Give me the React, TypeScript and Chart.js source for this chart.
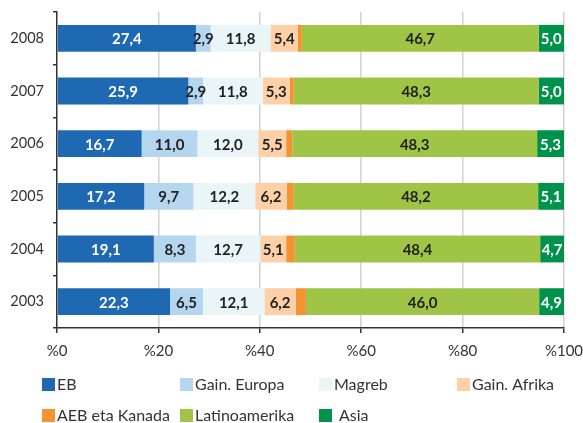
import React, { useEffect, useRef } from "react";
import { Chart, registerables } from "chart.js";

Chart.register(...registerables);

const years = ["2008", "2007", "2006", "2005", "2004", "2003"];
const seriesNames = ["EB", "Gain. Europa", "Magreb", "Gain. Afrika", "AEB eta Kanada", "Latinoamerika", "Asia"];
const eb = [27.4, 25.9, 16.7, 17.2, 19.1, 22.3];
const gainEuropa = [2.9, 2.9, 11.0, 9.7, 8.3, 6.5];
const magreb = [11.8, 11.8, 12.0, 12.2, 12.7, 12.1];
const gainAfrika = [5.4, 5.3, 5.5, 6.2, 5.1, 6.2];
const aebKanada = [0.8, 0.8, 1.2, 1.4, 1.7, 2.0];
const latinoamerika = [46.7, 48.3, 48.3, 48.2, 48.4, 46.0];
const asia = [5.0, 5.0, 5.3, 5.1, 4.7, 4.9];
const xTicks = [0, 20, 40, 60, 80, 100];

const colors = ["#1f69b3", "#b5d6ef", "#eaf5f7", "#fdd0a7", "#f39332", "#a0c546", "#00914a"];
const labelColors = ["#ffffff", "#222222", "#222222", "#222222", null, "#222222", "#ffffff"];
const FONT = "Lato";

const valueLabels = {
  id: "valueLabels",
  afterDatasetsDraw(chart: any) {
    const ctx = chart.ctx;
    ctx.save();
    ctx.font = `bold 15px ${FONT}`;
    ctx.textAlign = "center";
    ctx.textBaseline = "middle";
    chart.data.datasets.forEach((ds: any, i: number) => {
      const col = labelColors[i];
      if (!col) return;
      const meta = chart.getDatasetMeta(i);
      meta.data.forEach((el: any, j: number) => {
        const v = ds.data[j];
        const cx = (el.x + el.base) / 2;
        ctx.fillStyle = col;
        ctx.fillText(v.toFixed(1).replace(".", ","), cx, el.y + 1);
      });
    });
    ctx.restore();
  },
};

const legendPos = [
  [42, 384], [180, 384], [319, 384], [457, 384],
  [42, 415], [180, 415], [319, 415],
];

const customLegend = {
  id: "customLegend",
  afterDraw(chart: any) {
    const ctx = chart.ctx;
    ctx.save();
    ctx.font = `16px ${FONT}`;
    ctx.textBaseline = "middle";
    ctx.textAlign = "left";
    seriesNames.forEach((name, i) => {
      const [x, y] = legendPos[i];
      ctx.fillStyle = colors[i];
      ctx.fillRect(x, y - 6, 13, 13);
      ctx.fillStyle = "#333333";
      ctx.fillText(name, x + (i === 6 ? 20 : 15), y + 1);
    });
    ctx.restore();
  },
};

export default function App() {
  const ref = useRef<HTMLCanvasElement>(null);
  useEffect(() => {
    const dataArrays = [eb, gainEuropa, magreb, gainAfrika, aebKanada, latinoamerika, asia];
    const chart = new Chart(ref.current as HTMLCanvasElement, {
      type: "bar",
      data: {
        labels: years,
        datasets: dataArrays.map((d, i) => ({
          label: seriesNames[i],
          data: d,
          backgroundColor: colors[i],
          borderWidth: 0,
          barPercentage: 0.51,
          categoryPercentage: 1,
        })),
      },
      options: {
        indexAxis: "y",
        responsive: false,
        animation: false,
        layout: { padding: { left: 0, right: 19, top: 12, bottom: 55 } },
        plugins: { legend: { display: false }, tooltip: { enabled: false } },
        scales: {
          x: {
            stacked: true,
            min: 0,
            max: 100,
            afterBuildTicks: (scale: any) => {
              scale.ticks = xTicks.map((v) => ({ value: v }));
            },
            afterFit: (scale: any) => {
              scale.height = 40;
              scale.paddingLeft = 0;
              scale.paddingRight = 0;
            },
            ticks: {
              callback: (v: any) => "%" + v,
              font: { family: FONT, size: 15 },
              color: "#333333",
              padding: 9,
              maxRotation: 0,
            },
            grid: {
              color: (c: any) => (c.tick && c.tick.value === 0 ? "rgba(0,0,0,0)" : "#d2d2d2"),
              lineWidth: 1.5,
              tickColor: "#333333",
              tickLength: 5,
            },
            border: { color: "#333333", width: 1.5 },
          },
          y: {
            stacked: true,
            afterFit: (scale: any) => {
              scale.width = 57;
              scale.paddingTop = 0;
              scale.paddingBottom = 0;
            },
            ticks: {
              font: { family: FONT, size: 14.5 },
              color: "#333333",
              padding: 9,
            },
            grid: {
              offset: true,
              drawOnChartArea: false,
              tickColor: "#333333",
              tickLength: 4,
              lineWidth: 1.5,
            },
            border: { color: "#333333", width: 1.5 },
          },
        },
      },
      plugins: [valueLabels, customLegend],
    } as any);
    return () => chart.destroy();
  }, []);
  return (
    <div style={{ position: "fixed", left: 0, top: 0, width: 583, height: 423, background: "#fff" }}>
      <canvas ref={ref} width={583} height={423} />
    </div>
  );
}
